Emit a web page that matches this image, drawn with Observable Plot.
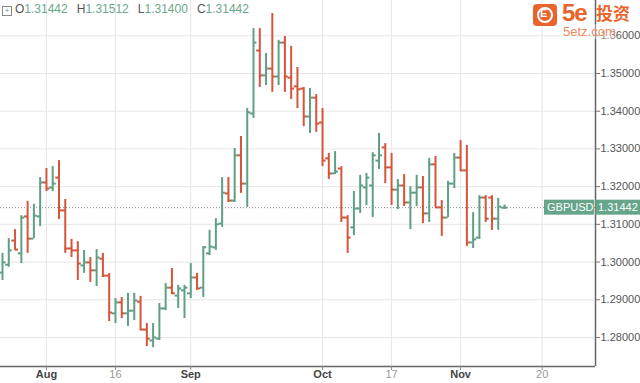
<!DOCTYPE html>
<html><head><meta charset="utf-8">
<script src="https://cdn.jsdelivr.net/npm/d3@7"></script>
<script src="https://cdn.jsdelivr.net/npm/@observablehq/plot@0.6"></script>
<style>
body{margin:0;background:#fff;font-family:"Liberation Sans",Arial,sans-serif;}
#wrap{position:relative;width:640px;height:383px;overflow:hidden;}
#hdr{position:absolute;left:2px;top:2px;font-size:12px;color:#555;white-space:nowrap;}
#hdr .v{color:#6aa68c;margin-right:9px;}
#hdr .b{display:inline-block;width:8px;height:8px;border:1px solid #888;font-size:8px;line-height:8px;text-align:center;margin-right:3px;vertical-align:0px;color:#888;}
#logo{position:absolute;left:533px;top:4px;width:107px;height:34px;}
#logo .ic{position:absolute;left:0;top:0;width:24px;height:22px;background:#e8642c;border-radius:4px;}
#logo .ic .ring{position:absolute;left:4px;top:3px;width:12px;height:12px;border:2px solid #fff;border-radius:50%;}
#logo .ic .ring span{position:absolute;left:1px;top:-2px;font-size:11px;font-weight:bold;color:#fff;}
#logo .t1{position:absolute;left:29px;top:-4px;font-size:24px;line-height:26px;font-weight:bold;color:#e8642c;letter-spacing:-1px;}
#logo .t2{position:absolute;left:63px;top:-2px;font-size:17px;line-height:22px;font-weight:bold;color:#e8642c;font-family:"Noto Sans CJK SC",sans-serif;}
#logo .t3{position:absolute;left:30px;top:20px;font-size:13px;line-height:15px;color:#ee8a5e;background:rgba(255,255,255,0.35);}
</style></head><body>
<div id="wrap"><div id="chart"></div>
<div id="hdr"><span class="b">+</span>O<span class="v" id="vo"></span>H<span class="v" id="vh"></span>L<span class="v" id="vl"></span>C<span class="v" id="vc"></span></div>
<div id="logo"><div class="ic"><div class="ring"><span>E</span></div></div><div class="t1">5e</div><div class="t2">投资</div><div class="t3">5etz.com</div></div>
</div>
<script>
const symbol = "GBPUSD";
const openP  = [1.2972,1.2993,1.3057,1.3023,1.3121,1.3062,1.3121,1.3211,1.3198,1.3224,1.3137,1.3036,1.3031,1.2991,1.2999,1.2978,1.3009,1.2964,1.2864,1.2893,1.2864,1.2871,1.2895,1.2821,1.2792,1.2797,1.2877,1.2932,1.2911,1.2925,1.2917,1.2959,1.2932,1.3023,1.3039,1.3102,1.3182,1.3163,1.3283,1.3208,1.3394,1.3561,1.3495,1.3513,1.3492,1.3582,1.3489,1.3466,1.3460,1.3386,1.3436,1.3370,1.3275,1.3235,1.3248,1.3118,1.3092,1.3142,1.3198,1.3203,1.3269,1.3304,1.3251,1.3192,1.3203,1.3158,1.3184,1.3198,1.3129,1.3259,1.3145,1.3118,1.3208,1.3277,1.3243,1.3052,1.3065,1.3171,1.3171,1.3115,1.31442];
const highP  = [1.3023,1.3062,1.3086,1.3123,1.3161,1.3153,1.3224,1.3248,1.3253,1.3269,1.3166,1.3060,1.3054,1.3031,1.3012,1.3033,1.3023,1.2970,1.2903,1.2906,1.2917,1.2917,1.2909,1.2837,1.2837,1.2890,1.2943,1.2983,1.2938,1.2938,1.2996,1.2970,1.3041,1.3084,1.3115,1.3224,1.3224,1.3301,1.3333,1.3407,1.3619,1.3619,1.3553,1.3659,1.3588,1.3598,1.3572,1.3516,1.3463,1.3460,1.3444,1.3407,1.3288,1.3293,1.3253,1.3123,1.3187,1.3230,1.3235,1.3290,1.3341,1.3314,1.3288,1.3219,1.3232,1.3200,1.3230,1.3227,1.3275,1.3280,1.3163,1.3214,1.3288,1.3322,1.3309,1.3131,1.3176,1.3176,1.3176,1.3169,1.31512];
const lowP   = [1.2951,1.2986,1.3031,1.2996,1.3023,1.3062,1.3094,1.3187,1.3187,1.3113,1.3023,1.3012,1.2951,1.2970,1.2946,1.2935,1.2959,1.2842,1.2837,1.2850,1.2829,1.2845,1.2818,1.2776,1.2773,1.2792,1.2871,1.2914,1.2877,1.2850,1.2903,1.2925,1.2906,1.3017,1.3031,1.3092,1.3158,1.3158,1.3182,1.3145,1.3381,1.3463,1.3468,1.3450,1.3468,1.3450,1.3431,1.3407,1.3359,1.3341,1.3344,1.3253,1.3219,1.3232,1.3105,1.3023,1.3070,1.3129,1.3150,1.3118,1.3245,1.3208,1.3150,1.3139,1.3147,1.3086,1.3147,1.3102,1.3105,1.3145,1.3068,1.3118,1.3195,1.3240,1.3041,1.3036,1.3060,1.3105,1.3084,1.3084,1.31400];
const closeP = [1.2999,1.3031,1.3033,1.3118,1.3062,1.3123,1.3211,1.3195,1.3208,1.3137,1.3036,1.3031,1.2996,1.2999,1.2978,1.3012,1.2964,1.2866,1.2893,1.2864,1.2871,1.2898,1.2821,1.2797,1.2800,1.2877,1.2932,1.2917,1.2930,1.2932,1.2959,1.2930,1.3039,1.3041,1.3100,1.3184,1.3163,1.3283,1.3208,1.3397,1.3582,1.3495,1.3513,1.3492,1.3582,1.3492,1.3460,1.3458,1.3386,1.3436,1.3367,1.3269,1.3235,1.3240,1.3118,1.3065,1.3142,1.3203,1.3224,1.3283,1.3283,1.3251,1.3192,1.3203,1.3158,1.3184,1.3198,1.3129,1.3259,1.3145,1.3118,1.3208,1.3277,1.3243,1.3052,1.3060,1.3171,1.3115,1.3115,1.3147,1.31442];
const xTickIdx = [7, 18, 30, 51, 62, 73, 86];
const xTickLabels = ["Aug", "16", "Sep", "Oct", "17", "Nov", "20"];
const yTicks = [1.28, 1.29, 1.30, 1.31, 1.32, 1.33, 1.34, 1.35, 1.36];
const xDomain = [-0.32, 94.5];
const yDomain = [1.2723, 1.36936];

const GREEN = "#5f9f85", RED = "#d4553c";
const FONT = "'Liberation Sans', Arial, sans-serif";
const n = openP.length;
const lastO = openP[n-1], lastH = highP[n-1], lastL = lowP[n-1], lastC = closeP[n-1];
document.getElementById("vo").textContent = lastO.toFixed(5);
document.getElementById("vh").textContent = lastH.toFixed(5);
document.getElementById("vl").textContent = lastL.toFixed(5);
document.getElementById("vc").textContent = lastC.toFixed(5);

const bars = openP.map((o, i) => ({i, o, h: highP[i], l: lowP[i], c: closeP[i], col: closeP[i] >= o ? GREEN : RED}));
const ticks = xTickIdx.map((x, k) => ({x, label: xTickLabels[k], month: isNaN(+xTickLabels[k])}));

const plot = Plot.plot({
  width: 640, height: 383,
  marginLeft: 0, marginRight: 45, marginTop: 0, marginBottom: 17,
  x: {domain: xDomain, axis: null},
  y: {domain: yDomain, axis: null},
  color: {type: "identity"},
  style: {fontFamily: FONT, fontSize: "12px", background: "transparent", overflow: "visible"},
  marks: [
    Plot.ruleY(yTicks, {stroke: "#e6e6e6", strokeWidth: 1}),
    Plot.ruleX(xTickIdx, {stroke: "#e6e6e6", strokeWidth: 1}),
    Plot.ruleY([lastC], {stroke: "#8a8a8a", strokeDasharray: "1,2", strokeWidth: 1}),
    Plot.ruleX(bars, {x: "i", y1: "l", y2: "h", stroke: "col", strokeWidth: 2}),
    Plot.ruleY(bars, {y: "o", x1: d => d.i - 0.5, x2: d => d.i, stroke: "col", strokeWidth: 2}),
    Plot.ruleY(bars, {y: "c", x1: d => d.i, x2: d => d.i + 0.55, stroke: "col", strokeWidth: 2}),
    Plot.ruleX([xDomain[1]], {stroke: "#666", strokeWidth: 1.5}),
    Plot.ruleY([yDomain[0]], {stroke: "#666", strokeWidth: 1.5}),
    Plot.axisY({anchor: "right", ticks: yTicks, tickFormat: d => d.toFixed(5), tickSize: 4, tickPadding: 1, stroke: "#777", fill: "#555", fontSize: 11}),
    Plot.axisX({ticks: xTickIdx, text: null, tickSize: 4, stroke: "#888"}),
    Plot.text(ticks.filter(d => d.month), {x: "x", text: "label", frameAnchor: "bottom", dy: 11, fill: "#444", fontWeight: "bold", fontSize: 11}),
    Plot.text(ticks.filter(d => !d.month), {x: "x", text: "label", frameAnchor: "bottom", dy: 11, fill: "#999", fontSize: 11})
  ]
});
document.getElementById("chart").appendChild(plot);

// last price label
const svg = d3.select(plot);
const yy = plot.scale("y").apply(lastC);
const xr = plot.scale("x").apply(xDomain[1]);
const g = svg.append("g").attr("text-anchor", "start").attr("font-family", FONT).attr("font-size", 11);
g.append("rect").attr("x", xr - 51).attr("y", yy - 7.5).attr("width", 50).attr("height", 15).attr("fill", "#66a58a");
g.append("rect").attr("x", xr + 0.5).attr("y", yy - 7.5).attr("width", 640 - xr).attr("height", 15).attr("fill", "#66a58a");
g.append("text").attr("x", xr - 48).attr("y", yy + 4).attr("fill", "#fff").text(symbol);
g.append("text").attr("x", xr + 3).attr("y", yy + 4).attr("fill", "#fff").text(lastC.toFixed(5));
</script>
</body></html>
